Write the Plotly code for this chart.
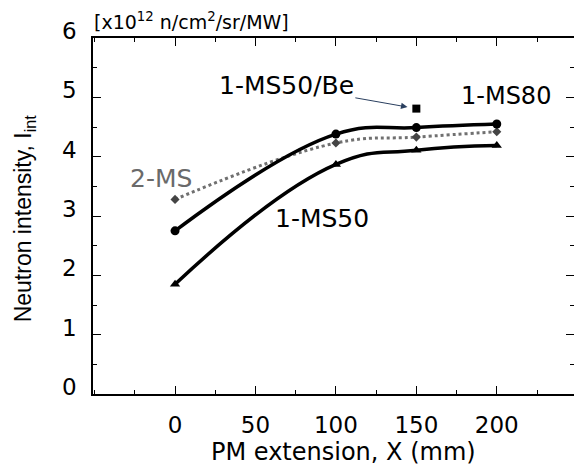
import plotly.graph_objects as go

x_vals = [0, 100, 150, 200]
ms80 = [2.75, 4.38, 4.49, 4.55]
ms2 = [3.28, 4.23, 4.33, 4.42]
ms50 = [1.85, 3.87, 4.11, 4.19]
be_x = [150]
be_y = [4.81]

x_ticks = [0, 50, 100, 150, 200]
y_ticks = [0, 1, 2, 3, 4, 5, 6]

FONT = "DejaVu Sans, sans-serif"
FONT2 = "Liberation Sans, Arial, sans-serif"

fig = go.Figure()
fig.add_trace(go.Scatter(x=x_vals, y=ms2, mode="lines+markers",
                         line=dict(color="#707070", width=3, dash="dot", shape="spline", smoothing=1.2),
                         marker=dict(symbol="diamond", size=7, color="#444444")))
fig.add_trace(go.Scatter(x=x_vals, y=ms80, mode="lines+markers",
                         line=dict(color="black", width=3.5, shape="spline", smoothing=1.2),
                         marker=dict(symbol="circle", size=9, color="black")))
fig.add_trace(go.Scatter(x=x_vals, y=ms50, mode="lines+markers",
                         line=dict(color="black", width=3.5, shape="spline", smoothing=1.3),
                         marker=dict(symbol="triangle-up", size=9, color="black")))
fig.add_trace(go.Scatter(x=be_x, y=be_y, mode="markers", marker=dict(symbol="square", size=8, color="black")))

ann = [
    dict(x=150, y=be_y[0], xref="x", yref="y", text="1-MS50/Be", showarrow=True, arrowhead=2, arrowsize=1.3,
         arrowwidth=1, ax=-130, ay=-23, standoff=9, font=dict(family=FONT, size=25, color="black")),
    dict(x=205.6, y=5.03, xref="x", yref="y", text="1-MS80", showarrow=False, font=dict(family=FONT, size=24, color="black")),
    dict(x=-8.7, y=3.64, xref="x", yref="y", text="2-MS", showarrow=False, font=dict(family=FONT, size=25, color="#6a6a6a")),
    dict(x=91.3, y=2.96, xref="x", yref="y", text="1-MS50", showarrow=False, font=dict(family=FONT, size=25, color="black")),
    dict(x=-0.003, y=1.0, xref="paper", yref="paper", text="[x10<sup>12</sup> n/cm<sup>2</sup>/sr/MW]", showarrow=False,
         xanchor="left", yanchor="bottom", yshift=3, font=dict(family=FONT, size=19, color="black")),
    dict(x=-0.143, y=0.494, xref="paper", yref="paper", text="Neutron intensity, I<sub>int</sub>", showarrow=False,
         textangle=-90, xanchor="center", yanchor="middle", font=dict(family=FONT2, size=23, color="black")),
    dict(x=0.52, y=0, xref="paper", yref="paper", text="PM extension, X (mm)", showarrow=False,
         xanchor="center", yanchor="middle", yshift=-58, font=dict(family=FONT, size=24, color="black")),
]

fig.update_layout(
    width=574, height=470,
    margin=dict(l=93, r=0, t=38, b=76),
    paper_bgcolor="white", plot_bgcolor="white",
    showlegend=False,
    font=dict(family=FONT, size=23, color="black"),
    annotations=ann,
)
fig.update_xaxes(range=[-51, 248], tickvals=x_ticks, ticks="inside", ticklen=8, tickwidth=1, tickcolor="black",
                 minor=dict(dtick=25, tick0=0, ticks="inside", ticklen=4, tickcolor="black"),
                 showline=True, linecolor="black", linewidth=1.5, mirror="ticks", showgrid=False, zeroline=False,
                 automargin=False, ticklabelstandoff=10, tickfont=dict(family=FONT, size=23))
fig.update_yaxes(range=[0, 6], tickvals=y_ticks, ticks="inside", ticklen=8, tickwidth=1, tickcolor="black",
                 minor=dict(dtick=0.5, tick0=0, ticks="inside", ticklen=4, tickcolor="black"),
                 showline=True, linecolor="black", linewidth=1.5, mirror="ticks", showgrid=False, zeroline=False,
                 automargin=False, ticklabelstandoff=10, ticklabelshift=-7, tickfont=dict(family=FONT, size=23))

fig.write_html("out.html", config={"displayModeBar": False},
               post_script="document.body.style.margin='0';document.body.style.overflow='hidden';")
